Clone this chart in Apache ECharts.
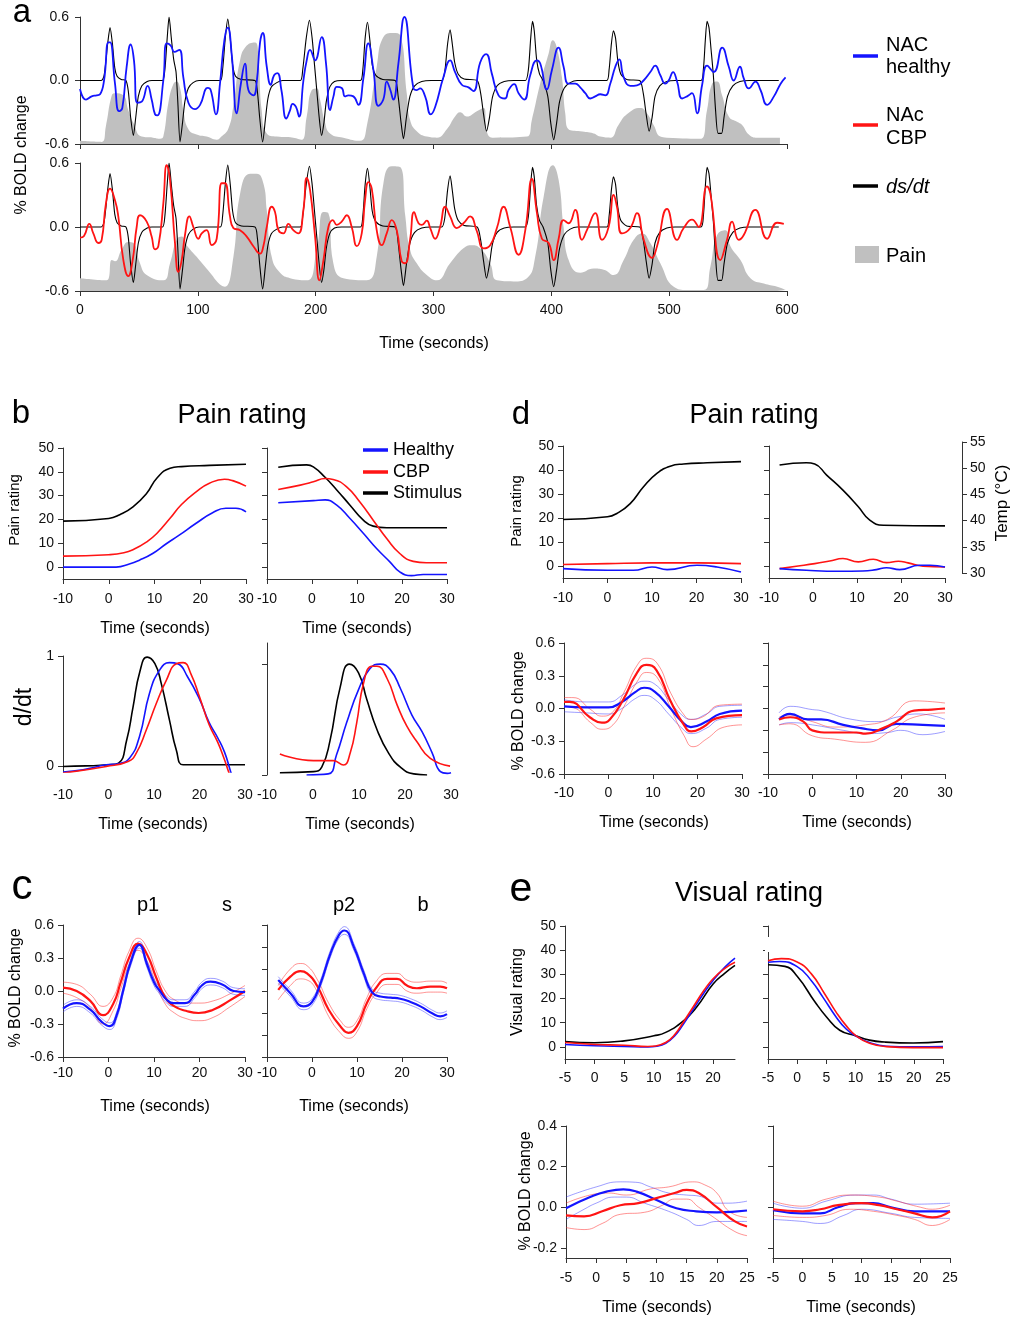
<!DOCTYPE html>
<html>
<head>
<meta charset="utf-8">
<script src="https://cdn.jsdelivr.net/npm/echarts@6/dist/echarts.min.js"></script>
<style>
html,body{margin:0;padding:0;background:#fff}
#main{width:1027px;height:1317px}
</style>
</head>
<body>
<div id="main"></div>
<script>
// ---------- panel a : whole run, 0-600 s ----------
var aTimeTicks = [0, 100, 200, 300, 400, 500, 600];
var aBoldTicks = [-0.6, 0, 0.6];

// ds/dt of the stimulus (same trace in both rows)
var aDsdt = [[0,0],[18,0],[20.5,0.05],[23.5,0.35],[25.5,0.5],[27.5,0.35],[29.5,0.12],[31.5,0.04],[35,0.01],[39,0],[41,-0.1],[43,-0.35],[45.3,-0.52],[47.3,-0.35],[49.5,-0.15],[52.5,-0.05],[57,-0.01],[61,0],[70,0],
 [72,0.1],[74,0.4],[75.6,0.6],[77.5,0.4],[79.5,0.2],[81.5,0.08],[83,-0.2],[84.9,-0.58],[87,-0.4],[89,-0.2],[92,-0.07],[96,-0.02],[101,0],[119,0],
 [121,0.1],[123.3,0.4],[125.4,0.58],[127.5,0.4],[129.5,0.15],[132,0.04],[137,0.01],[148.5,0],[150.5,-0.1],[152.5,-0.35],[155,-0.58],[157.5,-0.35],[159.5,-0.17],[162.5,-0.06],[167,-0.02],[172,0],[187,0],
 [189,0.1],[192,0.4],[194.7,0.57],[197,0.4],[199,0.15],[201,-0.1],[203,-0.35],[205,-0.52],[207,-0.4],[209,-0.2],[212,-0.06],[216,-0.01],[222,0],[238,0],
 [240,0.1],[242,0.4],[244,0.55],[246,0.38],[248,0.15],[251,0.05],[257,0.01],[267.5,0],[270,-0.15],[272.5,-0.4],[274.5,-0.55],[277,-0.35],[280,-0.15],[284,-0.05],[290,-0.01],[298,0],[307,0],
 [309.5,0.08],[312,0.35],[314.1,0.48],[316,0.34],[318,0.17],[321,0.06],[326,0.015],[337,0],[340,-0.12],[342.5,-0.32],[345,-0.48],[347.5,-0.35],[350,-0.16],[354,-0.05],[360,-0.01],[368,0],[378,0],
 [380.5,0.1],[382.5,0.4],[384,0.56],[385.5,0.47],[387.5,0.2],[390,0.06],[393,0],[397,-0.15],[399.5,-0.4],[402,-0.56],[404.5,-0.4],[407,-0.2],[411,-0.07],[416,-0.02],[422,0],[447,0],
 [449,0.1],[451,0.35],[452.7,0.47],[454.5,0.4],[456.5,0.18],[459,0.06],[464,0.01],[475,0],[478,-0.12],[480.5,-0.32],[483,-0.48],[485.5,-0.35],[488,-0.15],[492,-0.05],[498,-0.01],[505,0],[527,0],
 [529,0.1],[530.8,0.4],[532.2,0.56],[533.8,0.5],[535.5,0.3],[537.5,0.05],[539.5,-0.3],[541.5,-0.5],[544.5,-0.5],[546.5,-0.35],[549.5,-0.15],[554,-0.05],[560,-0.01],[568,0],[593,0]];

var aNacHealthy = [[0,-0.08],[5.1,-0.18],[9.9,-0.15],[14.1,-0.14],[17,-0.13],[20.4,0],[24.1,0.36],[25.5,0.36],[29.7,-0.03],[33.1,-0.29],[35.9,-0.26],[39.6,0.13],[43,0.34],[45.8,0.19],[48.7,-0.21],[52.4,-0.2],[57.4,-0.05],[60.8,-0.18],[63.7,-0.32],[65.6,-0.33],
 [70.7,0],[73.6,0.35],[77,0.33],[80.1,0.27],[84.3,0.29],[87.7,0.03],[92,-0.21],[97.6,-0.27],[101.9,-0.23],[108.4,-0.07],[110.9,-0.09],[115.4,-0.32],[118.8,-0.03],[122.5,0.38],[125.4,0.5],[128.8,0.24],[133,-0.31],[136.4,-0.04],[140.1,0.16],[142.9,-0.09],[147.2,-0.14],[150,-0.01],[152.8,0.36],[155.1,0.45],[158.5,0.13],[161.9,-0.04],[164.7,0.05],[167.5,0.07],[170.9,-0.09],[175.1,-0.36],[178,-0.29],[180.5,-0.22],[183.3,-0.25],[185.9,-0.34],
 [189.6,0],[192.4,0.19],[195.2,0.29],[199.5,0.19],[205.1,0.41],[208.8,0.16],[212.2,-0.28],[215.1,-0.15],[217.9,-0.06],[222.1,-0.07],[224.9,-0.15],[227.8,-0.14],[232,-0.15],[236.2,-0.23],[240.5,0.02],[244.7,0.35],[249,0.1],[253.2,-0.24],[257.4,-0.18],[260.3,-0.01],[263.1,-0.08],[265.9,-0.18],[270.2,0.16],[275.3,0.6],
 [283,-0.075],[285.8,-0.09],[288.6,-0.075],[292.9,-0.15],[297.7,-0.32],[301.4,-0.25],[308.4,0.03],[314.1,0.19],[318.3,0.08],[324,-0.04],[329.7,-0.065],[333.9,-0.1],[339.6,0.17],[344.7,0.25],[349.5,0.065],[355.2,-0.14],[360.8,-0.17],[363.7,-0.09],[368.5,-0.035],[372.2,-0.12],[377,-0.18],[382.1,0.05],[387.7,0.19],[390.6,0.16],[396.2,-0.085],[400.5,0.1],[406.1,0.31],[410.4,0.13],[414.6,-0.03],[420.3,-0.03],[424.5,-0.065],[428.8,-0.12],[433,-0.17],[437.3,-0.15],[441.5,-0.13],[445.8,-0.14],
 [450,-0.03],[454.3,0.13],[457.7,0.2],[461.3,0.035],[467,-0.05],[472.7,-0.045],[478.3,0],[484,0.08],[488.2,0.14],[492.5,0.05],[496.7,-0.03],[499.6,0],[503.3,0.08],[506.7,-0.01],[511,-0.17],[515.2,-0.15],[519.4,-0.12],[523.7,-0.31],[528,-0.04],[532.2,0.14],[537.8,0.08],[545,0.31],[550.6,0.13],[554.8,0],[560,0.13],[563.3,0.02],[567.6,-0.075],[573.3,-0.01],[577.5,-0.09],[583.2,-0.23],[588.9,-0.15],[594.6,-0.03],[598.8,0.03]];

var aPainTop = [[0,-0.57],[18.4,-0.58],[22,-0.43],[27,-0.14],[29.7,-0.12],[36.8,-0.14],[41,-0.28],[45.3,-0.4],[52.3,-0.53],[62,-0.54],[68,-0.55],[70.7,-0.53],[75,-0.21],[79,-0.04],[82,-0.01],[85,-0.075],[87.7,-0.28],[92,-0.46],[99,-0.51],[107.5,-0.53],[116,-0.56],[120,-0.53],[126,-0.45],[130,-0.25],[135.8,0.19],[141.5,0.33],[148.6,0.36],[151.4,0.22],[154.2,-0.28],[158.5,-0.5],[167,-0.53],[181,-0.54],[188,-0.56],[192.4,-0.34],[196.7,-0.09],[201,-0.075],[203.7,-0.18],[208,-0.4],[212.2,-0.5],[223.5,-0.54],[237.7,-0.57],[243.4,-0.43],[251.8,0.13],[257.5,0.41],[266,0.45],[271.6,0.43],[277.3,-0.12],[280.1,-0.37],[285.8,-0.48],[294.3,-0.53],[302.8,-0.54],[311.3,-0.46],[318.3,-0.34],[322.6,-0.3],[328.3,-0.34],[336.8,-0.29],[342.5,-0.26],[345.8,-0.5],[350.9,-0.54],[379.2,-0.53],[383.5,-0.37],[390.5,-0.03],[397.6,0.25],[401.3,0.38],[404.7,0.31],[409,0.03],[411.8,-0.31],[414.6,-0.46],[424.5,-0.48],[435.9,-0.5],[441.5,-0.53],[450,-0.54],[457,-0.42],[464.1,-0.32],[475.5,-0.26],[481.1,-0.31],[486.8,-0.42],[492.5,-0.53],[498.1,-0.54],[526.4,-0.55],[532.1,-0.28],[536.4,-0.03],[540.6,-0.01],[544.9,-0.14],[550.6,-0.34],[557.6,-0.39],[561.9,-0.42],[567.6,-0.51],[574.7,-0.54],[594,-0.54]];

var aNacCbp = [[0,-0.1],[3.4,-0.085],[7.9,0.03],[11.3,-0.06],[15.6,-0.15],[18.4,-0.12],[22,0.22],[25.5,0.36],[29.7,0.25],[32.5,0.1],[36.8,-0.31],[41,-0.46],[44.7,-0.31],[48.1,0],[50.9,0.11],[56.6,0.05],[60.8,-0.09],[63.7,-0.21],[66.5,-0.18],[70.7,0.22],[73.6,0.58],[76.4,0.44],[80.6,-0.15],[83.5,-0.42],[86.3,-0.31],[89.1,-0.075],[92.8,0.1],[96.2,0],[100.5,-0.11],[103.3,-0.06],[107.5,-0.03],[111.8,-0.17],[116,-0.11],[120.3,0.41],[123,0.41],[127.3,0.1],[130.2,-0.01],[135.8,-0.03],[141.5,-0.09],[147.1,-0.18],[152.8,-0.25],[155.6,-0.18],[158.5,0],[162.7,0.19],[165.5,0.14],[168.4,-0.03],[172.6,-0.06],[176.9,0.03],[181,-0.03],[185.3,-0.06],[189.6,0.16],[192.4,0.46],[195.2,0.35],[199.5,-0.09],[203.2,-0.5],[206.6,-0.31],[210.8,0],[214.5,0.065],[217.9,0.02],[222.1,0.05],[226.4,0.11],[230.6,0],[234.9,-0.18],[239.1,-0.06],[241.9,0.25],[244.8,0.42],[247.6,0.36],[251.8,-0.03],[256.1,-0.17],[260.3,-0.06],[264.6,0.065],[268.8,-0.03],[273,-0.32],[275.9,-0.34],[280.1,-0.12],[283.5,0.14],[287.3,0.035],[290.1,0.02],[294.3,0.06],[297.2,-0.01],[301.4,-0.11],[305.6,0],[309.9,0.19],[314.1,0.1],[319.7,-0.01],[325.4,0.035],[331.1,0.1],[336.8,-0.04],[342.5,-0.2],[348.1,-0.17],[353.8,-0.01],[359.5,0.19],[365.1,0],[372.2,-0.26],[377.9,-0.03],[383.5,0.45],[387.8,0.13],[392,-0.11],[397.7,-0.15],[402,-0.31],[406.2,-0.11],[410.4,0.065],[414.7,0.035],[420.3,0.16],[426,-0.12],[430.2,-0.03],[437.3,0.13],[443,-0.12],[448.6,0],[452.9,0.3],[455.7,0.19],[460,-0.06],[467,-0.01],[472.7,0.13],[478.4,-0.12],[485.4,-0.29],[489.7,-0.18],[498.2,0.17],[506.7,-0.12],[512.3,-0.01],[519.4,0.07],[525,0],[532.1,0.38],[535,0.31],[543.5,-0.31],[549.1,-0.12],[553.4,0.05],[559,-0.12],[563.3,-0.075],[573.2,0.16],[583.1,-0.11],[591.6,0.04],[597.3,0.03]];

var aPainBottom = [[0,-0.48],[22.6,-0.5],[27,-0.31],[29.7,-0.32],[35.4,-0.21],[41,-0.14],[45.3,-0.15],[50.9,-0.34],[56.6,-0.45],[70.7,-0.5],[76.4,-0.34],[82,-0.12],[86.3,-0.09],[90.5,-0.17],[99,-0.28],[110.4,-0.43],[118.8,-0.54],[123,-0.56],[130.2,-0.28],[135.8,0.31],[144.3,0.5],[150,0.5],[155.6,0.41],[158.5,0.16],[162.7,-0.28],[169.8,-0.43],[178.3,-0.48],[192.4,-0.5],[200.9,-0.21],[206.6,0.14],[210.8,0.13],[215,-0.34],[223.5,-0.48],[243.3,-0.5],[251.8,-0.28],[257.5,0.41],[264.6,0.57],[272,0.56],[276.1,0.1],[280.1,-0.21],[285.8,-0.34],[294.3,-0.45],[302.8,-0.5],[314.1,-0.34],[325.4,-0.2],[332.5,-0.17],[339.6,-0.2],[348.1,-0.34],[353.8,-0.5],[368,-0.51],[379.3,-0.48],[386.3,-0.28],[393.4,0.28],[401.3,0.58],[406.2,0.44],[410.4,0],[414.7,-0.31],[424.6,-0.43],[435.9,-0.39],[444.4,-0.4],[452.9,-0.45],[461.4,-0.31],[469.9,-0.12],[477,-0.06],[484,-0.15],[492.5,-0.34],[503.9,-0.56],[515.2,-0.59],[529.4,-0.59],[535,-0.37],[540.7,-0.075],[547.8,-0.03],[552,-0.18],[560.5,-0.31],[569,-0.48],[580.4,-0.53],[591.7,-0.56],[598.8,-0.59]];

// ---------- panel b ----------
var ratingTicks = [0, 10, 20, 30, 40, 50];
var time30Ticks = [-10, 0, 10, 20, 30];
var ddtTicks = [0, 1];

var bStimRise = [[-10,19.3],[0,20.4],[2.4,22],[5.3,25.3],[8.3,31],[10.5,37.3],[13.4,41.5],[15.9,42.2],[22,42.7],[30,43.2]];
var bCbpRise = [[-10,4.6],[0,5.2],[3.3,6],[5.4,7.4],[8.3,10.6],[10.5,14.1],[13.4,20.5],[15.9,26.3],[19.1,31.6],[22,35.2],[25.3,36.9],[27.1,36.3],[30,34]];
var bHealthyRise = [[-10,0],[1.6,0],[4.5,1.3],[6.7,2.9],[9.6,5.7],[12.5,9.7],[15.4,13.4],[19.1,18.4],[22.7,22.8],[25.6,24.7],[27.8,24.7],[30,23.2]];
var bStimFall = [[-7.5,41.9],[-1.2,42.9],[0.3,42.1],[2.9,37.7],[5.5,32.4],[8.4,26.1],[11.4,19.7],[13.6,17.2],[16.6,16.5],[30,16.5]];
var bCbpFall = [[-7.5,32.6],[-2.6,34.4],[0.3,35.8],[2.9,37.2],[4.7,36.8],[7.7,33.7],[10.6,27.4],[13.6,19.7],[16.6,12],[19.5,5.7],[22.5,2.4],[25.4,1.8],[30,1.8]];
var bHealthyFall = [[-7.5,27],[0.3,27.9],[2.9,28.2],[5.5,26],[8.4,20.5],[11.4,14.2],[14.3,7.9],[17.3,2.2],[19.5,-2],[22.1,-3.6],[24.7,-3.1],[30,-3.1]];

var ddtStimRise = [[-10,0],[-5,0.005],[0,0.015],[2.2,0.03],[4,0.24],[5.4,0.54],[6.9,0.86],[8.5,0.99],[10.2,0.93],[11.6,0.75],[13.4,0.42],[14.9,0.15],[16.4,0.015],[20,0.015],[30,0.015]];
var ddtHealthyRise = [[-10,-0.05],[-5.6,-0.03],[-0.5,0.015],[2.1,0.025],[4.6,0.075],[6.8,0.27],[9,0.66],[11.2,0.87],[13.4,0.94],[15.2,0.93],[17.4,0.81],[20,0.61],[22.1,0.4],[24,0.26],[25.5,0.13],[26.8,-0.04],[27.3,-0.1]];
var ddtCbpRise = [[-10,-0.06],[-0.5,0],[4.3,0.045],[6.1,0.12],[8.3,0.33],[10.5,0.57],[12.7,0.78],[14.9,0.93],[16.4,0.94],[18.2,0.83],[20,0.63],[22.1,0.38],[24,0.22],[25.5,0.06],[26.5,-0.06],[26.9,-0.1]];
var ddtStimFall = [[-7.2,0.02],[0.1,0.03],[1.9,0.07],[3.7,0.31],[5.9,0.79],[7.9,1],[9.9,0.92],[11.7,0.68],[13.9,0.41],[16.4,0.2],[19,0.07],[21.9,0.01],[24.8,0]];
var ddtHealthyFall = [[-1.4,0],[3.3,0.01],[5.1,0.18],[7.3,0.47],[9.9,0.77],[12.4,0.96],[14.6,1],[16.8,0.95],[19,0.78],[21.5,0.54],[23.7,0.39],[25.9,0.2],[27.7,0.03],[29.2,0.015],[30,0.02]];
var ddtCbpFall = [[-7.2,0.19],[0.1,0.13],[4.4,0.13],[6.6,0.09],[8.1,0.2],[9.5,0.47],[11,0.83],[12.8,0.98],[13.9,0.98],[16.1,0.87],[18.3,0.63],[20.4,0.44],[22.6,0.3],[25.5,0.15],[29.8,0.08]];

// ---------- panel c ----------
var boldTicks = [-0.6, -0.3, 0, 0.3, 0.6];
var boldTicksFine = [-0.6, -0.4, -0.2, 0, 0.2, 0.4, 0.6];

var cP1Cbp = [[-10,0.03],[-7,0],[-4,-0.09],[-1.2,-0.22],[1,-0.12],[2.7,0.08],[4.5,0.3],[6.5,0.43],[8.5,0.33],[10.5,0.12],[12.5,-0.06],[14.5,-0.14],[17,-0.18],[19.8,-0.2],[23,-0.17],[26.5,-0.09],[30,0]];
var cP1CbpHi = [[-10,0.08],[-7,0.06],[-4,-0.03],[-1.2,-0.14],[1,-0.06],[2.7,0.14],[4.5,0.36],[6.5,0.48],[8.5,0.39],[10.5,0.18],[12.5,0],[14.5,-0.08],[17,-0.11],[19.8,-0.11],[23,-0.09],[26.5,-0.03],[30,0.05]];
var cP1CbpLo = [[-10,-0.02],[-7,-0.06],[-4,-0.15],[-1.2,-0.3],[1,-0.18],[2.7,0.02],[4.5,0.24],[6.5,0.37],[8.5,0.27],[10.5,0.06],[12.5,-0.12],[14.5,-0.2],[17,-0.25],[19.8,-0.27],[23,-0.24],[26.5,-0.15],[30,-0.05]];
var cP1Healthy = [[-10,-0.16],[-7,-0.11],[-4,-0.17],[-1.5,-0.28],[0.3,-0.32],[1.8,-0.22],[3.2,0],[4.8,0.25],[6.8,0.42],[8.4,0.25],[10,0.08],[11.3,0],[12.8,-0.08],[14.3,-0.11],[16.8,-0.11],[19,-0.03],[20.5,0.05],[22.4,0.085],[25,0.06],[27.5,0],[30,-0.01]];
var cP1HealthyHi = [[-10,-0.13],[-7,-0.08],[-4,-0.14],[-1.5,-0.25],[0.3,-0.29],[1.8,-0.19],[3.2,0.03],[4.8,0.28],[6.8,0.45],[8.4,0.28],[10,0.11],[11.3,0.03],[12.8,-0.05],[14.3,-0.08],[16.8,-0.08],[19,0],[20.5,0.08],[22.4,0.115],[25,0.09],[27.5,0.03],[30,0.02]];
var cP1HealthyLo = [[-10,-0.19],[-7,-0.14],[-4,-0.2],[-1.5,-0.31],[0.3,-0.35],[1.8,-0.25],[3.2,-0.03],[4.8,0.22],[6.8,0.39],[8.4,0.22],[10,0.05],[11.3,-0.03],[12.8,-0.11],[14.3,-0.14],[16.8,-0.14],[19,-0.06],[20.5,0.02],[22.4,0.055],[25,0.03],[27.5,-0.03],[30,-0.04]];

var cP2Healthy = [[-7.5,0.1],[-4.8,-0.02],[-1.9,-0.14],[0,-0.1],[1.9,0.07],[4.1,0.34],[6,0.51],[7.2,0.55],[9.3,0.4],[11.5,0.16],[13.3,-0.01],[15.2,-0.05],[17.5,-0.06],[19.6,-0.07],[21.9,-0.1],[24.1,-0.14],[27,-0.21],[28.5,-0.23],[30,-0.21]];
var cP2HealthyHi = [[-7.5,0.13],[-4.8,0.01],[-1.9,-0.11],[0,-0.07],[1.9,0.1],[4.1,0.37],[6,0.54],[7.2,0.585],[9.3,0.43],[11.5,0.19],[13.3,0.02],[15.2,-0.02],[17.5,-0.03],[19.6,-0.04],[21.9,-0.07],[24.1,-0.11],[27,-0.18],[28.5,-0.2],[30,-0.18]];
var cP2HealthyLo = [[-7.5,0.07],[-4.8,-0.05],[-1.9,-0.17],[0,-0.13],[1.9,0.04],[4.1,0.31],[6,0.48],[7.2,0.515],[9.3,0.37],[11.5,0.13],[13.3,-0.04],[15.2,-0.08],[17.5,-0.09],[19.6,-0.1],[21.9,-0.13],[24.1,-0.17],[27,-0.24],[28.5,-0.26],[30,-0.24]];
var cP2Cbp = [[-7.5,0.01],[-4.8,0.13],[-2.6,0.18],[-1.1,0.16],[1.1,0.05],[3.7,-0.17],[6.3,-0.32],[8.1,-0.38],[10,-0.32],[12.2,-0.11],[14.1,0.02],[16.7,0.11],[18.9,0.11],[21.1,0.05],[23.3,0.025],[26.3,0.04],[28.5,0.04],[30,0.025]];
var cP2CbpHi = [[-7.5,0.05],[-4.8,0.2],[-2.6,0.25],[-1.1,0.23],[1.1,0.11],[3.7,-0.11],[6.3,-0.27],[8.1,-0.33],[10,-0.27],[12.2,-0.06],[14.1,0.08],[16.7,0.16],[18.9,0.16],[21.1,0.1],[23.3,0.08],[26.3,0.09],[28.5,0.09],[30,0.07]];
var cP2CbpLo = [[-7.5,-0.08],[-4.8,0.05],[-2.6,0.11],[-1.1,0.1],[1.1,0],[3.7,-0.23],[6.3,-0.38],[8.1,-0.43],[10,-0.37],[12.2,-0.16],[14.1,-0.03],[16.7,0.06],[18.9,0.06],[21.1,0],[23.3,-0.02],[26.3,-0.01],[28.5,-0.01],[30,-0.02]];

// ---------- panel d ----------
var tempTicks = [30, 35, 40, 45, 50, 55];
var dStimRise = [[-10,19.4],[0,20.5],[2.1,21.9],[5.1,26],[8.1,33],[11.1,38.6],[14.1,41.6],[17.1,42.5],[22.4,43],[30,43.5]];
var dCbpRise = [[-10,0.6],[0,1],[10,1.3],[20,1.3],[30,1]];
var dHealthyRise = [[-10,-1.1],[0,-1.8],[5.8,-1.8],[10,-0.4],[13.4,-1.5],[20.1,0.3],[24.6,-0.4],[30,-2.5]];
var dStimFall = [[-7.6,42.1],[-1.5,43],[0.4,42.5],[3.1,37.9],[6.8,31.6],[10.3,24.7],[12.9,19.1],[16,17],[30,16.7]];
var dCbpFall = [[-7.6,-1.1],[-3.8,-0.1],[0.4,1],[3.8,2.1],[6.8,3.1],[10.3,1.7],[13.7,2.8],[16.7,1.4],[19.4,2],[21.6,1.3],[25,-0.1],[30,-0.4]];
var dHealthyFall = [[-7.6,-1.1],[-1.5,-1.8],[6,-2.2],[11.3,-2.1],[14.4,-1.5],[16.7,-0.7],[19.7,-1.5],[24.2,0.3],[26.6,0.3],[30,-0.4]];

var dRiseCbp = [[-10,0.06],[-8.7,0.06],[-4.2,-0.08],[-1.5,-0.13],[0.3,-0.1],[3.3,0.08],[6.3,0.32],[8.5,0.4],[10.8,0.35],[13.8,0.08],[16.8,-0.14],[18.6,-0.21],[21.3,-0.17],[24.2,-0.09],[30,-0.06]];
var dRiseCbpHi = [[-10,0.1],[-8,0.1],[-4,-0.01],[-1.5,-0.07],[1,-0.03],[3.5,0.15],[6.5,0.4],[8.5,0.46],[11,0.41],[14,0.14],[17,-0.06],[18.5,-0.1],[21,-0.08],[25,0.03],[30,0.04]];
var dRiseCbpLo = [[-10,0.02],[-8,0.01],[-4,-0.13],[-1.5,-0.19],[1,-0.15],[3.5,0.02],[6.5,0.25],[8.5,0.33],[11,0.28],[14,0],[17,-0.25],[19,-0.35],[22,-0.28],[26,-0.17],[30,-0.15]];
var dRiseHealthy = [[-10,0.02],[-5,0.01],[0,0.01],[3,0.06],[6,0.15],[8,0.19],[10.5,0.15],[13.5,0.02],[16.5,-0.12],[18.5,-0.17],[22,-0.12],[25,-0.05],[30,-0.02]];
var dRiseHealthyHi = [[-10,0.08],[-5,0.06],[0,0.06],[3,0.12],[6,0.22],[8,0.25],[10.5,0.22],[13.5,0.08],[16.5,-0.06],[18.5,-0.1],[22,-0.05],[25,0.02],[30,0.03]];
var dRiseHealthyLo = [[-10,-0.03],[-5,-0.04],[0,-0.05],[3,0],[6,0.09],[8,0.12],[10.5,0.08],[13.5,-0.05],[16.5,-0.18],[18.5,-0.23],[22,-0.18],[25,-0.1],[30,-0.08]];
var dFallHealthy = [[-7.5,-0.1],[-5,-0.05],[-1,-0.1],[2,-0.1],[7,-0.15],[11,-0.18],[15,-0.2],[19,-0.14],[25,-0.15],[30,-0.16]];
var dFallHealthyHi = [[-7.5,-0.04],[-5,0.02],[0,-0.01],[2,-0.02],[9,-0.1],[15,-0.12],[19,-0.08],[24,-0.05],[30,-0.1]];
var dFallHealthyLo = [[-7.5,-0.15],[-5,-0.13],[0,-0.15],[7,-0.2],[12,-0.23],[17,-0.22],[20,-0.2],[25,-0.24],[30,-0.21]];
var dFallCbp = [[-7.5,-0.1],[-5,-0.08],[-2,-0.12],[0,-0.2],[4,-0.22],[10,-0.22],[12,-0.23],[16,-0.18],[19,-0.12],[23,-0.02],[27,-0.01],[30,0]];
var dFallCbpHi = [[-7.5,-0.08],[-5,-0.06],[0,-0.12],[5,-0.17],[12,-0.15],[17,-0.1],[23,0.07],[30,0.05]];
var dFallCbpLo = [[-7.5,-0.15],[-5,-0.14],[0,-0.25],[5,-0.28],[12,-0.31],[18,-0.2],[23,-0.08],[30,-0.04]];

// ---------- panel e ----------
var visTicksLeft = [-5, 0, 5, 10, 15, 20];
var visTicks = [-5, 0, 5, 10, 15, 20, 25];
var visBoldTicks = [-0.2, 0, 0.2, 0.4];
var eStimRise = [[-5,2.2],[0,1.7],[5,2.5],[10,4.6],[12,6],[15,10.8],[17.2,16.4],[20,26],[22,30.5],[23.7,33.7]];
var eHealthyRise = [[-5,1],[0,0.5],[5,0.2],[9,0],[10.5,0.3],[12,1.5],[13.5,4.5],[15,9.5],[16.5,15],[18.5,22.5],[20,27.5],[22,33],[23.7,36.7]];
var eCbpRise = [[-5,1.8],[0,1],[5,0.7],[9,0.2],[10.3,0.4],[12,1.8],[13.5,5],[15,10.3],[16.5,16],[18.5,23.5],[20,28.2],[22,32.5],[23.7,35]];
var eStimFall = [[-5,34],[-2.1,33.3],[0,29.2],[3,18.8],[5,12.5],[7.3,6.9],[10,4.6],[12.4,2.8],[15,2],[19.9,1.6],[25,2.2]];
var eHealthyFall = [[-5,35],[-3,35.3],[0,33.2],[2.4,27.5],[4.4,20.6],[6.7,12.3],[8.4,7.4],[10,4.6],[12.4,1.8],[15.3,0.3],[19.9,0],[25,0.1]];
var eCbpFall = [[-5,35.6],[-2.7,36.5],[0,35.1],[2.4,30.3],[4.7,22],[6.7,14.3],[8.4,8.8],[10.1,4.6],[12.4,1.5],[15.3,0.1],[19.9,-0.3],[25,-0.3]];

var eRiseHealthy = [[-5,-0.005],[-1,0.05],[1.7,0.077],[4.5,0.088],[6.7,0.077],[10,0.036],[13.3,-0.005],[16.6,-0.02],[20,-0.025],[25,-0.016]];
var eRiseHealthyHi = [[-5,0.05],[0,0.1],[4,0.125],[6.5,0.123],[9,0.1],[12,0.07],[15,0.06],[17,0.055],[20,0.02],[22,0.02],[25,0.03]];
var eRiseHealthyLo = [[-5,-0.06],[-2,-0.01],[0,0.02],[3,0.05],[5,0.05],[8,0.02],[12,-0.02],[15,-0.06],[17,-0.09],[20,-0.07],[25,-0.07]];
var eRiseCbp = [[-5,-0.04],[-2,-0.045],[1,-0.02],[4,0.01],[7,0.02],[10,0.045],[13,0.07],[15,0.085],[17,0.07],[20,0],[23,-0.07],[25,-0.095]];
var eRiseCbpHi = [[-5,0.02],[-1,0.06],[2,0.07],[5,0.06],[9,0.09],[12,0.1],[16,0.125],[18,0.11],[20,0.07],[22,-0.02],[25,-0.05]];
var eRiseCbpLo = [[-5,-0.1],[-2,-0.11],[1,-0.08],[4,-0.035],[8,-0.025],[11,0.01],[13,0.04],[15,0.04],[17,0],[19,-0.04],[23,-0.12],[25,-0.14]];
var eFallHealthy = [[-5,-0.015],[0,-0.03],[3,-0.03],[6,0],[9,0.02],[12,0.02],[15,0],[19,-0.02],[25,-0.02]];
var eFallHealthyHi = [[-5,0.02],[0,-0.005],[4,0.03],[9,0.06],[12,0.06],[15,0.04],[19,0.015],[25,0.02]];
var eFallHealthyLo = [[-5,-0.06],[0,-0.07],[3,-0.08],[7,-0.04],[10,-0.01],[15,-0.03],[19,-0.05],[25,-0.055]];
var eFallCbp = [[-5,-0.01],[0,-0.02],[3,-0.01],[6,0.01],[10,0.02],[13,0.01],[16,-0.01],[19,-0.03],[22,-0.05],[25,-0.02]];
var eFallCbpHi = [[-5,0.03],[0,0.005],[4,0.04],[8,0.06],[13,0.05],[16,0.03],[20,0],[22,-0.01],[25,0.01]];
var eFallCbpLo = [[-5,-0.04],[0,-0.05],[4,-0.04],[8,-0.01],[12,-0.02],[16,-0.04],[19,-0.06],[22,-0.09],[25,-0.06]];

// ---------- styling / layout ----------
var FONT = "'Liberation Sans', Arial, sans-serif";
var BLUE = '#1414ff', RED = '#ff1414', BLACK = '#000', GRAY = '#c0c0c0';
var BLUE_T = 'rgba(40,40,255,0.45)', RED_T = 'rgba(255,40,40,0.5)';
var AXC = '#333';

// left, top, width, height of every plot box
var boxes = [
  [80, 17, 707, 127], [80, 163, 707, 128],
  [63, 448, 183, 131], [267, 448, 180, 131],
  [63, 656, 182, 116], [267, 643, 184, 132],
  [63, 925, 182, 132], [267, 925, 180, 132],
  [563, 446, 178, 132], [769, 446, 176, 132],
  [564, 643, 178, 131], [768, 643, 177, 131],
  [565, 926, 170, 133], [768, 926, 175, 133],
  [566, 1126, 181, 132], [773, 1126, 177, 132],
  [900, 442, 62, 131]
];

function fmt1(v) { return v.toFixed(1); }
function fmt0(v) { return String(v); }

// x: [min,max,ticks,showLabels,margin,showLine]  y: [min,max,ticks,showLabels,formatter]
var axes = [
  {x: [0, 600, aTimeTicks, false, 12, true], y: [-0.6, 0.6, aBoldTicks, true, fmt1]},
  {x: [0, 600, aTimeTicks, true, 12, true], y: [-0.6, 0.6, aBoldTicks, true, fmt1]},
  {x: [-10, 30, time30Ticks, true, 13, true], y: [-5, 50, ratingTicks, true, fmt0]},
  {x: [-10, 30, time30Ticks, true, 13, true], y: [-5, 50, ratingTicks, false, fmt0]},
  {x: [-10, 30, time30Ticks, true, 16, false], y: [-0.05, 1, ddtTicks, true, fmt0]},
  {x: [-10, 30, time30Ticks, true, 13, false], y: [0, 1.19, ddtTicks, false, fmt0]},
  {x: [-10, 30, time30Ticks, true, 9, true], y: [-0.6, 0.6, boldTicks, true, fmt1]},
  {x: [-10, 30, time30Ticks, true, 9, true], y: [-0.6, 0.6, boldTicksFine, false, fmt1]},
  {x: [-10, 30, time30Ticks, true, 13, true], y: [-5, 50, ratingTicks, true, fmt0]},
  {x: [-10, 30, time30Ticks, true, 13, true], y: [-5, 50, ratingTicks, false, fmt0]},
  {x: [-10, 30, time30Ticks, true, 12, true], y: [-0.6, 0.6, boldTicks, true, fmt1]},
  {x: [-10, 30, time30Ticks, true, 12, true], y: [-0.6, 0.6, boldTicksFine, false, fmt1]},
  {x: [-5, 23.7, visTicksLeft, true, 12, true], y: [-5, 50, ratingTicks, true, fmt0]},
  {x: [-5, 25, visTicks, true, 12, true], y: [-5, 50, ratingTicks, false, fmt0]},
  {x: [-5, 25, visTicks, true, 13, true], y: [-0.25, 0.4, visBoldTicks, true, fmt1]},
  {x: [-5, 25, visTicks, true, 13, true], y: [-0.25, 0.4, visBoldTicks, false, fmt1]},
  {x: null, y: [30, 55, tempTicks, true, fmt0, 'right']}
];

var grids = [], xAxes = [], yAxes = [];
boxes.forEach(function (b, i) {
  grids.push({left: b[0], top: b[1], width: b[2], height: b[3], outerBoundsMode: 'none'});
  var a = axes[i];
  if (a.x) {
    xAxes.push({
      gridIndex: i, type: 'value', min: a.x[0], max: a.x[1],
      axisLine: {show: a.x[5], onZero: false, lineStyle: {color: AXC, width: 1}},
      axisTick: {show: a.x[5], length: 5, customValues: a.x[2], lineStyle: {color: AXC}},
      axisLabel: {show: a.x[3], customValues: a.x[2], margin: a.x[4], fontSize: 14, color: '#111', fontFamily: FONT},
      splitLine: {show: false}
    });
  } else {
    xAxes.push({gridIndex: i, type: 'value', min: 0, max: 1, show: false});
  }
  yAxes.push({
    gridIndex: i, type: 'value', min: a.y[0], max: a.y[1], position: a.y[5] || 'left',
    axisLine: {show: true, onZero: false, lineStyle: {color: AXC, width: 1}},
    axisTick: {show: true, length: 5, customValues: a.y[2], lineStyle: {color: AXC}},
    axisLabel: {show: a.y[3], customValues: a.y[2], margin: 9, fontSize: 14, color: '#111', fontFamily: FONT, formatter: a.y[4]},
    splitLine: {show: false}
  });
});
yAxes[0].axisLabel.margin = 11; yAxes[1].axisLabel.margin = 11;
yAxes[16].axisLabel.margin = 8;

function curve(gi, data, color, width, smooth, z) {
  return {
    type: 'line', xAxisIndex: gi, yAxisIndex: gi, data: data,
    smooth: smooth, symbol: 'none', z: z || 3,
    lineStyle: {color: color, width: width}
  };
}
function painArea(gi, data) {
  return {
    type: 'line', xAxisIndex: gi, yAxisIndex: gi, data: data,
    smooth: 0.5, symbol: 'none', z: 1,
    lineStyle: {width: 0, color: GRAY},
    areaStyle: {color: GRAY, opacity: 1, origin: 'start'}
  };
}
function banded(gi, mid, hi, lo, color, thin) {
  return [curve(gi, hi, thin, 1, 0.5, 2), curve(gi, lo, thin, 1, 0.5, 2), curve(gi, mid, color, 2.2, 0.5, 3)];
}

var series = [
  painArea(0, aPainTop), curve(0, aDsdt, BLACK, 1.1, 0.25, 2), curve(0, aNacHealthy, BLUE, 1.8, 0.5, 3),
  painArea(1, aPainBottom), curve(1, aDsdt, BLACK, 1.1, 0.25, 2), curve(1, aNacCbp, RED, 1.8, 0.5, 3),
  curve(2, bStimRise, BLACK, 1.6, 0.5), curve(2, bCbpRise, RED, 1.6, 0.5), curve(2, bHealthyRise, BLUE, 1.6, 0.5),
  curve(3, bStimFall, BLACK, 1.6, 0.5), curve(3, bCbpFall, RED, 1.6, 0.5), curve(3, bHealthyFall, BLUE, 1.6, 0.5),
  curve(4, ddtStimRise, BLACK, 1.6, 0.5), curve(4, ddtHealthyRise, BLUE, 1.6, 0.5), curve(4, ddtCbpRise, RED, 1.6, 0.5),
  curve(5, ddtStimFall, BLACK, 1.6, 0.5), curve(5, ddtHealthyFall, BLUE, 1.6, 0.5), curve(5, ddtCbpFall, RED, 1.6, 0.5),
  curve(8, dStimRise, BLACK, 1.6, 0.5), curve(8, dCbpRise, RED, 1.6, 0.5), curve(8, dHealthyRise, BLUE, 1.6, 0.5),
  curve(9, dStimFall, BLACK, 1.6, 0.5), curve(9, dCbpFall, RED, 1.6, 0.5), curve(9, dHealthyFall, BLUE, 1.6, 0.5),
  curve(12, eStimRise, BLACK, 1.6, 0.5), curve(12, eHealthyRise, BLUE, 1.6, 0.5), curve(12, eCbpRise, RED, 1.6, 0.5),
  curve(13, eStimFall, BLACK, 1.6, 0.5), curve(13, eHealthyFall, BLUE, 1.6, 0.5), curve(13, eCbpFall, RED, 1.6, 0.5)
].concat(
  banded(6, cP1Cbp, cP1CbpHi, cP1CbpLo, RED, RED_T),
  banded(6, cP1Healthy, cP1HealthyHi, cP1HealthyLo, BLUE, BLUE_T),
  banded(7, cP2Cbp, cP2CbpHi, cP2CbpLo, RED, RED_T),
  banded(7, cP2Healthy, cP2HealthyHi, cP2HealthyLo, BLUE, BLUE_T),
  banded(10, dRiseHealthy, dRiseHealthyHi, dRiseHealthyLo, BLUE, BLUE_T),
  banded(10, dRiseCbp, dRiseCbpHi, dRiseCbpLo, RED, RED_T),
  banded(11, dFallHealthy, dFallHealthyHi, dFallHealthyLo, BLUE, BLUE_T),
  banded(11, dFallCbp, dFallCbpHi, dFallCbpLo, RED, RED_T),
  banded(14, eRiseHealthy, eRiseHealthyHi, eRiseHealthyLo, BLUE, BLUE_T),
  banded(14, eRiseCbp, eRiseCbpHi, eRiseCbpLo, RED, RED_T),
  banded(15, eFallHealthy, eFallHealthyHi, eFallHealthyLo, BLUE, BLUE_T),
  banded(15, eFallCbp, eFallCbpHi, eFallCbpLo, RED, RED_T)
);

// ---------- text and legend marks ----------
function txt(x, y, s, size, opt) {
  opt = opt || {};
  return {
    type: 'text', x: x, y: y, rotation: opt.rot || 0, z: 100,
    style: {text: s, fontSize: size, fontFamily: FONT, fontStyle: opt.italic ? 'italic' : 'normal',
      fill: '#000', align: opt.align || 'center', verticalAlign: 'middle'}
  };
}
function swatch(x1, x2, y, color) {
  return {type: 'line', z: 100, shape: {x1: x1, y1: y, x2: x2, y2: y}, style: {stroke: color, lineWidth: 3.5}};
}
var UP = Math.PI / 2;
var labels = [
  txt(22, 13, 'a', 33), txt(21, 414, 'b', 33), txt(22, 887, 'c', 42), txt(521, 415, 'd', 33), txt(521, 890, 'e', 41),
  txt(242, 416, 'Pain rating', 27), txt(754, 416, 'Pain rating', 27), txt(749, 894, 'Visual rating', 27),
  txt(22, 155, '% BOLD change', 16, {rot: UP}),
  txt(434, 344, 'Time (seconds)', 16),
  txt(15, 510, 'Pain rating', 15, {rot: UP}),
  txt(25, 707, 'd/dt', 23, {rot: UP}),
  txt(16, 988, '% BOLD change', 16, {rot: UP}),
  txt(517, 511, 'Pain rating', 15, {rot: UP}),
  txt(1002, 503, 'Temp (\u00B0C)', 17, {rot: UP}),
  txt(519, 711, '% BOLD change', 16, {rot: UP}),
  txt(518, 992, 'Visual rating', 16, {rot: UP}),
  txt(526, 1191, '% BOLD change', 16, {rot: UP}),
  txt(155, 629, 'Time (seconds)', 16), txt(357, 629, 'Time (seconds)', 16),
  txt(153, 825, 'Time (seconds)', 16), txt(360, 825, 'Time (seconds)', 16),
  txt(155, 1107, 'Time (seconds)', 16), txt(354, 1107, 'Time (seconds)', 16),
  txt(654, 823, 'Time (seconds)', 16), txt(857, 823, 'Time (seconds)', 16),
  txt(657, 1308, 'Time (seconds)', 16), txt(861, 1308, 'Time (seconds)', 16),
  txt(148, 905, 'p1', 20), txt(227, 905, 's', 20), txt(344, 905, 'p2', 20), txt(423, 905, 'b', 20),
  // legend of panel a
  swatch(853, 878, 56, BLUE), txt(886, 45, 'NAC', 20, {align: 'left'}), txt(886, 67, 'healthy', 20, {align: 'left'}),
  swatch(853, 878, 125, RED), txt(886, 115, 'NAc', 20, {align: 'left'}), txt(886, 138, 'CBP', 20, {align: 'left'}),
  swatch(853, 878, 186, BLACK), txt(886, 187, 'ds/dt', 20, {align: 'left', italic: true}),
  {type: 'rect', z: 100, shape: {x: 855, y: 246, width: 24, height: 17}, style: {fill: GRAY}},
  txt(886, 256, 'Pain', 20, {align: 'left'}),
  // legend of panel b
  swatch(363, 388, 450, BLUE), txt(393, 450, 'Healthy', 18, {align: 'left'}),
  swatch(363, 388, 472, RED), txt(393, 472, 'CBP', 18, {align: 'left'}),
  swatch(363, 388, 493, BLACK), txt(393, 493, 'Stimulus', 18, {align: 'left'}),
  // small break in the axis line of panel e, right
  {type: 'rect', z: 100, shape: {x: 765, y: 937, width: 6, height: 15}, style: {fill: '#fff'}}
];

var myChart = echarts.init(document.getElementById('main'), null, {renderer: 'canvas'});
var option = {
  animation: false,
  backgroundColor: '#fff',
  grid: grids,
  xAxis: xAxes,
  yAxis: yAxes,
  series: series,
  graphic: {elements: labels}
};
myChart.setOption(option);
window.addEventListener('resize', function () { myChart.resize(); });
</script>
</body>
</html>
